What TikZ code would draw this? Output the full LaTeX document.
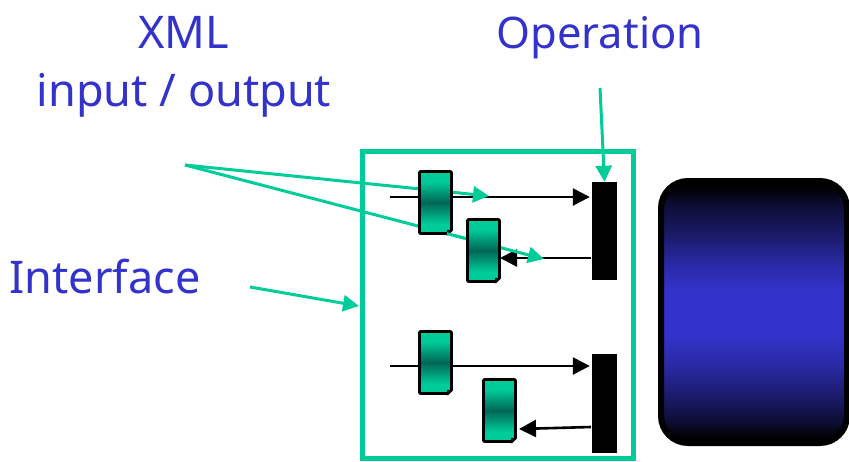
\documentclass[tikz,border=0pt]{standalone}
\usepackage{fontspec}
\setmainfont{Noto Sans}
\usetikzlibrary{arrows.meta}
\definecolor{labelblue}{HTML}{3333CC}
\definecolor{linkgreen}{HTML}{00CC99}
\definecolor{docdark}{HTML}{006655}
\colorlet{enginea}{labelblue!25!black}
\colorlet{engineb}{labelblue!50!black}
\colorlet{enginec}{labelblue!82!black}
\pgfdeclareverticalshading{docshade}{100bp}{color(0bp)=(linkgreen); color(33bp)=(linkgreen); color(50bp)=(docdark); color(67bp)=(linkgreen); color(100bp)=(linkgreen)}
\pgfdeclareverticalshading{engineshade}{100bp}{color(0bp)=(black); color(26bp)=(black); color(29bp)=(enginea); color(33.5bp)=(engineb); color(40bp)=(enginec); color(46bp)=(labelblue); color(54bp)=(labelblue); color(59bp)=(enginec); color(65bp)=(engineb); color(70.5bp)=(enginea); color(74bp)=(black); color(100bp)=(black)}
\tikzset{
    label text/.style = {text = labelblue, font = \fontsize{45}{54}\selectfont, inner sep = 0pt, anchor = base, align = center},
    link/.style = {draw = linkgreen, line width = 3pt, -{Triangle[length = 16pt, width = 16pt]}},
    flow/.style = {draw = black, line width = 2.6pt, -{Triangle[length = 17pt, width = 17pt]}},
    opbar/.style = {fill = black, inner sep = 0pt, minimum width = 25pt},
    docbox/.style = {draw = black, line width = 2.7pt, rounded corners = 1pt, inner sep = 0pt, minimum width = 32pt, minimum height = 62pt, shading = docshade},
}
\begin{document}
\begin{tikzpicture}[x = 1pt, y = -1pt]
    \useasboundingbox (0,0) rectangle (849,461);
    \node[label text] (XML) at (184,48) {XML};
    \node[label text] (INOUT) at (184,106) {input / output};
    \node[label text, font = \fontsize{43.5}{54}\selectfont] (OPER) at (600,48) {Operation};
    \node[label text] (IFACE) at (105,293) {Interface};

    \node[draw = linkgreen, line width = 5pt, minimum width = 271pt, minimum height = 307pt, inner sep = 0pt] (FRAME) at (497.5,305) {};
    \node[draw = black, line width = 6pt, rounded corners = 27pt, minimum width = 186pt, minimum height = 262pt, inner sep = 0pt,
        shading = engineshade] (ENGINE) at (754,312) {};

    \node[opbar, minimum height = 98pt] (BAR1) at (604.5,231) {};
    \node[opbar, minimum height = 99pt] (BAR2) at (604.5,403.5) {};

    \coordinate (IN1) at (390,197);
    \coordinate (IN2) at (390,366);
    \coordinate (OUT1) at (591,258);
    \coordinate (OUT1END) at (500,258);
    \coordinate (OUT2) at (591,427);
    \coordinate (OUT2END) at (519,429);
    \coordinate (FROMXML) at (185,165);
    \coordinate (HEAD1) at (489,196);
    \coordinate (HEAD2) at (544,259);
    \coordinate (FROMIFACE) at (250,287);
    \coordinate (IFACEEND) at (359,306);
    \coordinate (FROMOPER) at (600,88);
    \coordinate (GAP1) at (447,233.6);
    \coordinate (GAP2) at (464,238);

    \draw[flow, shorten >= 2pt] (IN1) -- (BAR1.west |- IN1);
    \draw[flow, shorten >= 2pt] (IN2) -- (BAR2.west |- IN2);
    \draw[flow] (OUT1) -- (OUT1END);
    \draw[flow] (OUT2) -- (OUT2END);
    \draw[link] (FROMXML) -- (HEAD1);
    \draw[link] (FROMXML) -- (HEAD2);

    \node[docbox] (DOC1) at (435.5,202.5) {};
    \node[docbox] (DOC2) at (483.5,250.5) {};
    \node[docbox] (DOC3) at (435.5,362.5) {};
    \node[docbox] (DOC4) at (499.5,410.5) {};
    \foreach \d in {DOC1,DOC2,DOC3,DOC4} {
        \fill[white] ([shift = {(-6pt,-2pt)}]\d.south east) -- ([shift = {(2pt,-2pt)}]\d.south east) -- ([shift = {(2pt,6pt)}]\d.south east) -- cycle;
        \fill[black] ([shift = {(-6pt,-1pt)}]\d.south east) -- ([shift = {(-6pt,5pt)}]\d.south east) -- ([shift = {(0pt,5pt)}]\d.south east) -- cycle;
    }
    \draw[draw = linkgreen, line width = 3pt] (GAP1) -- (GAP2);

    \draw[link] (FROMIFACE) -- (IFACEEND);
    \draw[link] (FROMOPER) -- (BAR1.north);
\end{tikzpicture}
\end{document}
